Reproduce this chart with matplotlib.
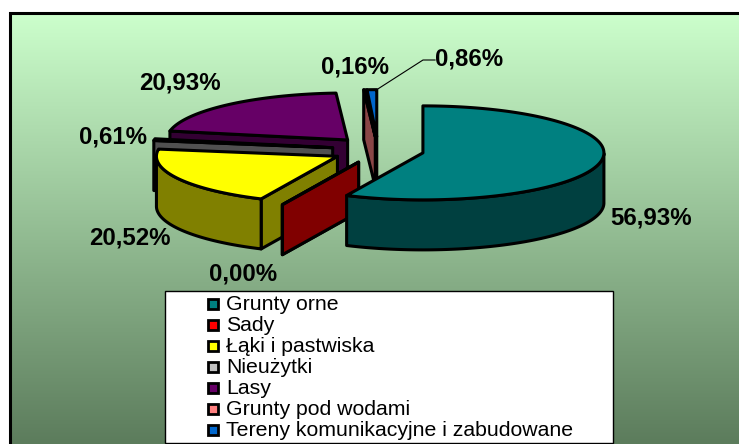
import numpy as np
import matplotlib
matplotlib.use('Agg')
import matplotlib.pyplot as plt
from matplotlib.patches import Polygon, Rectangle

plt.rcParams['font.family'] = ['Liberation Sans', 'DejaVu Sans']

# data
categories = ['Grunty orne', 'Sady', 'Łąki i pastwiska', 'Nieużytki', 'Lasy',
              'Grunty pod wodami', 'Tereny komunikacyjne i zabudowane']
values = [56.93, 0.00, 20.52, 0.61, 20.93, 0.16, 0.86]
value_labels = ['56,93%', '0,00%', '20,52%', '0,61%', '20,93%', '0,16%', '0,86%']

# colours
top_colors = ['#008080', '#800000', '#FFFF00', '#808080', '#660066', '#804040', '#0066CC']
side_colors = ['#004040', '#800000', '#808000', '#505050', '#330033', '#8A4646', '#003366']
legend_colors = ['#008080', '#FF0000', '#FFFF00', '#C0C0C0', '#660066', '#FF8080', '#0066CC']

# geometry of the pie, in pixels
CX, CY = 378, 150
RX, RY = 181, 47
EXPLODE = 46
SQUASH = 0.29
DEPTH = 50

# label positions (centre of text)
label_pos = [(651, 218), (243, 274), (130, 238), (113, 137), (180, 83), (355, 67), (469, 59)]

fig = plt.figure(figsize=(7.39, 4.44), dpi=100)
ax = fig.add_axes([0, 0, 1, 1])

# background gradient
grad = np.linspace(0, 1, 256).reshape(-1, 1)
c0 = np.array([0xCC, 0xFF, 0xCC]) / 255
c1 = np.array([0x5C, 0x7C, 0x5C]) / 255
img = (c0 + (c1 - c0) * grad[..., None])
ax.imshow(img, extent=(10, 739, 444, 14), aspect='auto', zorder=0)
ax.set_xlim(0, 739)
ax.set_ylim(444, 0)
ax.axis('off')
ax.plot([9.5, 9.5, 739], [444, 13.5, 13.5], color='black', lw=2.2, zorder=1,
        solid_joinstyle='miter')


def rim(cx, cy, a):
    return cx + RX * np.cos(a), cy - RY * np.sin(a)


def draw_wedge(a0, a1, top, side, z):
    # a0 < a1 in radians, anticlockwise on screen
    mid = (a0 + a1) / 2
    cx = CX + EXPLODE * np.cos(mid)
    cy = CY - EXPLODE * SQUASH * np.sin(mid)
    style = dict(ec='black', lw=2.2, joinstyle='round', zorder=z)

    # radial walls that face the viewer
    for a in (a0, a1):
        if (a == a1 and np.cos(a) < 0) or (a == a0 and np.cos(a) > 0) or a0 == a1:
            x, y = rim(cx, cy, a)
            ax.add_patch(Polygon([(cx, cy), (x, y), (x, y + DEPTH), (cx, cy + DEPTH)],
                                 fc=side, **style))

    # outer curved side, only the front part
    tt = np.linspace(a0, a1, 200)
    tt = tt[np.sin(tt) < 0]
    if len(tt) > 1:
        xs, ys = rim(cx, cy, tt)
        pts = list(zip(xs, ys)) + list(zip(xs[::-1], ys[::-1] + DEPTH))
        ax.add_patch(Polygon(pts, fc=side, **style))

    # top face
    tt = np.linspace(a0, a1, 200)
    xs, ys = rim(cx, cy, tt)
    ax.add_patch(Polygon([(cx, cy)] + list(zip(xs, ys)), fc=top, **style))


# slices run clockwise from 12 o'clock
angles = [np.pi / 2]
for v in values:
    angles.append(angles[-1] - v / sum(values) * 2 * np.pi)

# back to front
draw_order = [4, 6, 5, 3, 2, 1, 0]
for z, i in enumerate(draw_order):
    draw_wedge(angles[i + 1], angles[i], top_colors[i], side_colors[i], 2 + z)

# value labels
for (x, y), s in zip(label_pos, value_labels):
    ax.text(x, y, s, ha='center', va='center', fontsize=17.3, fontweight='bold',
            color='black', zorder=20)

# leader line for the last slice
lx, ly = rim(CX + EXPLODE * np.cos((angles[6] + angles[7]) / 2),
             CY - EXPLODE * SQUASH * np.sin((angles[6] + angles[7]) / 2), np.pi / 2)
ax.plot([lx, 423, 435], [ly, 60, 60], color='black', lw=0.8, zorder=19)

# legend
ax.add_patch(Rectangle((165, 291), 448, 152, fc='white', ec='black', lw=1.0, zorder=20))
for i, (name, col) in enumerate(zip(categories, legend_colors)):
    y = 303.5 + i * 21.08
    ax.add_patch(Rectangle((207.5, y - 5), 10, 10, fc=col, ec='black', lw=2.0, zorder=21))
    ax.text(226, y + 1, name, ha='left', va='center', fontsize=15.3, color='black', zorder=21)

fig.savefig('out.png', dpi=100)
